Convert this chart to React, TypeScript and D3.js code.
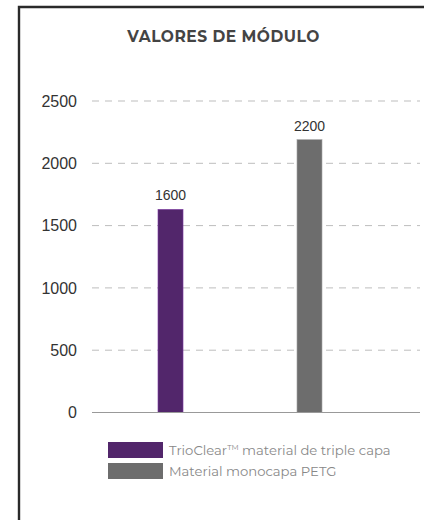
import React from "react";
import * as d3 from "d3";

const categories = ["TrioClear", "PETG"];
const values = [1630, 2190];
const valueLabels = ["1600", "2200"];
const colors = ["#52266b", "#6d6d6d"];
const yTicks = [0, 500, 1000, 1500, 2000, 2500];
const legendLabels = ["TrioClear", "Material monocapa PETG"];
const title = "VALORES DE MÓDULO";

export default function App() {
  const W = 424, H = 520;
  const y = d3.scaleLinear().domain([0, 2500]).range([412.5, 101]);
  const x = d3.scaleBand().domain(categories).range([88.5, 391.5]).paddingInner(0.82).paddingOuter(0.5);
  const gridX0 = 92, gridX1 = 420;
  return (
    <svg width={W} height={H} style={{ position: "absolute", left: 0, top: 0 }}>
      <rect x={0} y={0} width={W} height={H} fill="#fff" />
      <path d={`M19,${H} L19,7 L${W},7`} fill="none" stroke="#2a2a2a" strokeWidth={2.4} />
      <text x={223.5} y={42} textAnchor="middle" fontFamily="Montserrat, 'Open Sans', sans-serif" fontWeight={700} fontSize={15.5} fill="#444" letterSpacing={0.5}>{title}</text>
      {yTicks.map((t) => (
        <g key={t}>
          {t > 0 && (
            <line x1={gridX0} x2={gridX1} y1={y(t)} y2={y(t)} stroke="#bdbdbd" strokeWidth={1} strokeDasharray="7,6" />
          )}
          <text x={77} y={y(t)} dy="0.36em" textAnchor="end" fontFamily="'Liberation Sans', Arial, sans-serif" fontSize={16} fill="#333">{t}</text>
        </g>
      ))}
      {categories.map((c, i) => (
        <g key={c}>
          <rect x={x(c)} y={y(values[i])} width={x.bandwidth()} height={y(0) - y(values[i])} fill={colors[i]} stroke={d3.color(colors[i])!.brighter(1.2).formatHex()} strokeWidth={0.6} />
          <text x={(x(c) as number) + x.bandwidth() / 2} y={y(values[i]) - 9} textAnchor="middle" fontFamily="'Liberation Sans', Arial, sans-serif" fontSize={14} fill="#333">{valueLabels[i]}</text>
        </g>
      ))}
      <line x1={gridX0} x2={gridX1} y1={y(0)} y2={y(0)} stroke="#999" strokeWidth={1} />
      {legendLabels.map((l, i) => (
        <g key={l}>
          <rect x={108} y={442 + i * 21} width={55} height={16} fill={colors[i]} />
          <text x={169} y={455 + i * 21} fontFamily="Montserrat, 'Open Sans', sans-serif" fontSize={13.2} fill="#888">
            {i === 0 ? (
              <>
                {l}
                <tspan fontSize={7.5} dy={-5}>TM</tspan>
                <tspan dy={5}> material de triple capa</tspan>
              </>
            ) : l}
          </text>
        </g>
      ))}
    </svg>
  );
}
